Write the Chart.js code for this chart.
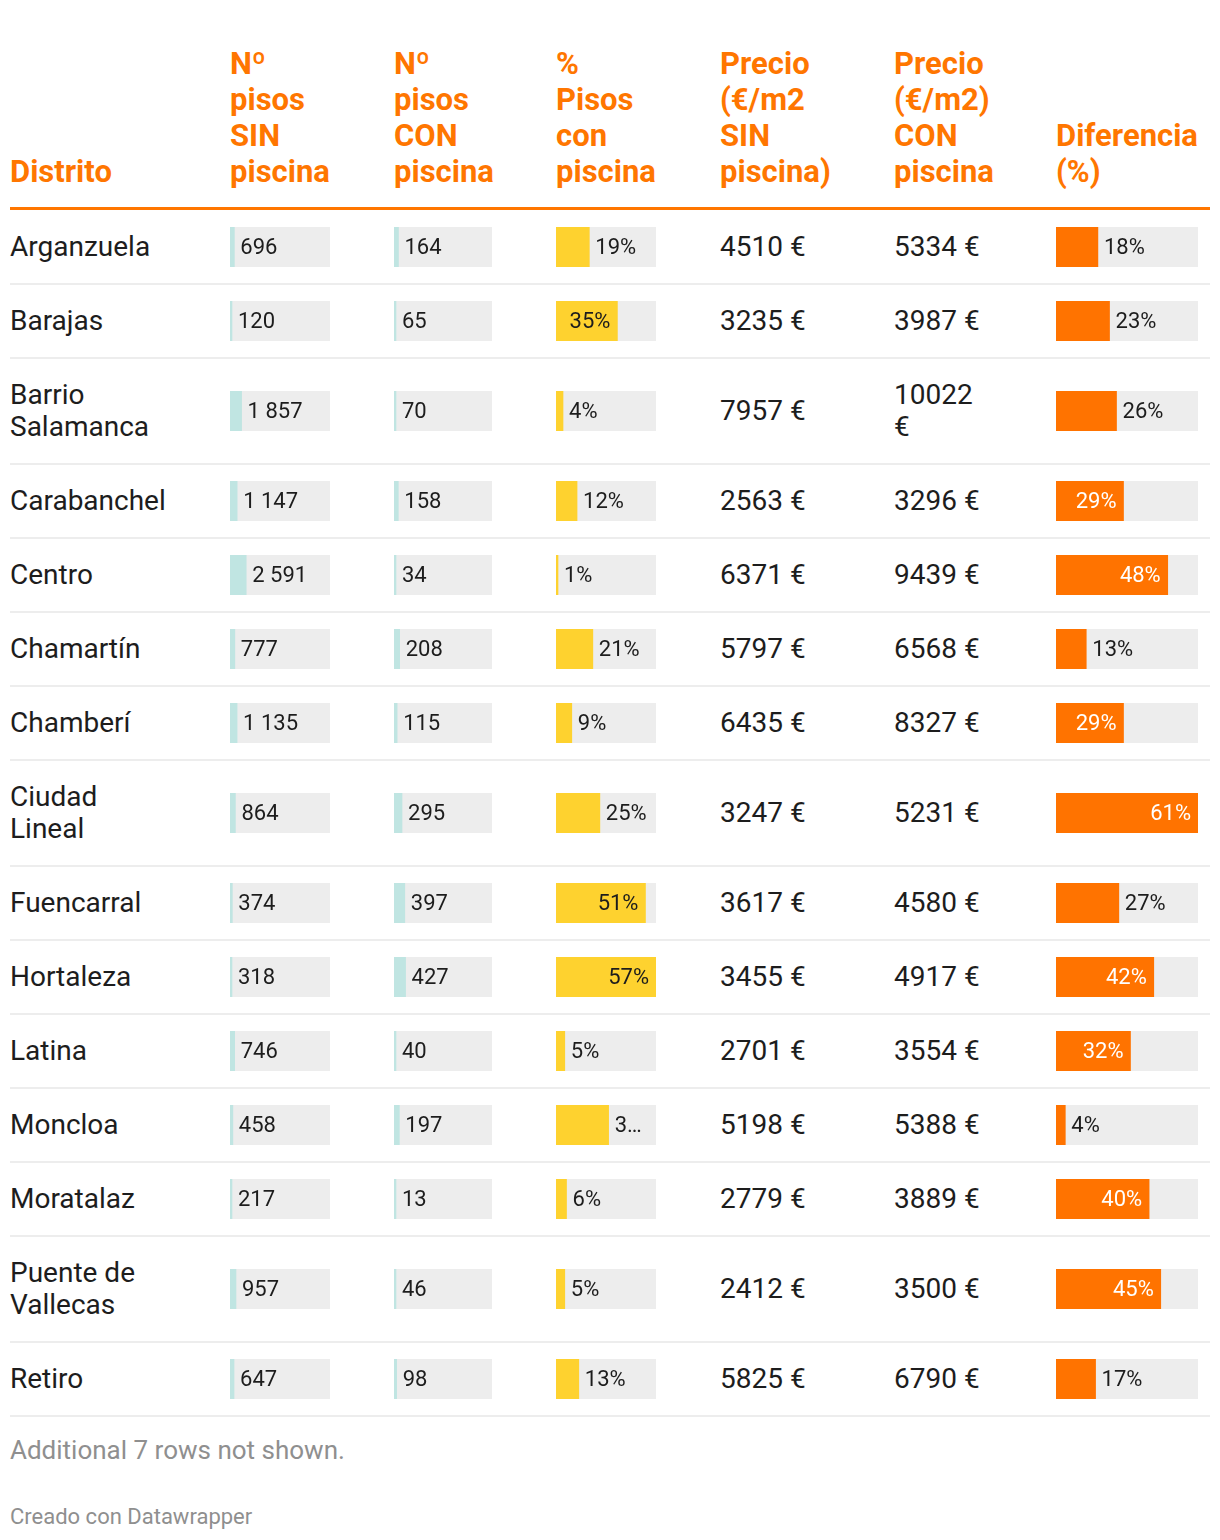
<!DOCTYPE html>
<html>
<head>
<meta charset="utf-8">
<script src="https://cdn.jsdelivr.net/npm/chart.js@4"></script>
<style>
body{margin:0;background:#fff;font-family:Roboto,"Noto Sans",sans-serif;color:#1d1d1d}
#wrap{position:absolute;left:10px;top:46px;width:1200px}
table{border-collapse:collapse;table-layout:fixed;width:1200px}
th{color:#ff7600;font-weight:700;font-size:31px;line-height:36px;text-align:left;vertical-align:bottom;padding:0 0 17px 0;border-bottom:3px solid #ff7600}
td{padding:20px 0;font-size:28px;line-height:32px;vertical-align:middle;border-bottom:2px solid #ededed}
tbody tr:first-child td{padding-top:21px}
tbody tr:first-child td.bar{padding-top:1px}
td.bar{padding:0}
canvas{display:block}
.name{max-width:150px}
.price{max-width:95px}
.note{margin-top:17px;font-size:26px;line-height:32px;color:#8f8f8f}
.credit{margin-top:37px;font-size:22px;line-height:28px;color:#8f8f8f}
</style>
</head>
<body>
<div id="wrap">
<table>
<colgroup><col style="width:220px"><col style="width:164px"><col style="width:162px"><col style="width:164px"><col style="width:174px"><col style="width:162px"><col style="width:154px"></colgroup>
<thead><tr id="head"></tr></thead>
<tbody id="body"></tbody>
</table>
<div class="note">Additional 7 rows not shown.</div>
<div class="credit">Creado con Datawrapper</div>
</div>
<script>
const headers = [
  ['Distrito'],
  ['Nº','pisos','SIN','piscina'],
  ['Nº','pisos','CON','piscina'],
  ['%','Pisos','con','piscina'],
  ['Precio','(€/m2','SIN','piscina)'],
  ['Precio','(€/m2)','CON','piscina'],
  ['Diferencia','(%)']
];
const districts = ['Arganzuela','Barajas','Barrio Salamanca','Carabanchel','Centro','Chamartín','Chamberí','Ciudad Lineal','Fuencarral','Hortaleza','Latina','Moncloa','Moratalaz','Puente de Vallecas','Retiro'];
const pisosSin  = [696,120,1857,1147,2591,777,1135,864,374,318,746,458,217,957,647];
const pisosCon  = [164,65,70,158,34,208,115,295,397,427,40,197,13,46,98];
const pctCon    = [19,35,4,12,1,21,9,25,51,57,5,30,6,5,13];
const precioSin = [4510,3235,7957,2563,6371,5797,6435,3247,3617,3455,2701,5198,2779,2412,5825];
const precioCon = [5334,3987,10022,3296,9439,6568,8327,5231,4580,4917,3554,5388,3889,3500,6790];
const diferencia= [18,23,26,29,48,13,29,61,27,42,32,4,40,45,17];

const fmtCount = n => String(n).replace(/\B(?=(\d{3})+(?!\d))/g,' ');
const fmtPct = n => n + '%';

// column settings for bar cells
const barCols = {
  sin:  {w:100, max:16000, color:'#c0e5e2', fmt:fmtCount, insideFrom:1e9, insideColor:'#1d1d1d'},
  con:  {w:98,  max:3600,  color:'#c0e5e2', fmt:fmtCount, insideFrom:1e9, insideColor:'#1d1d1d'},
  pct:  {w:100, max:57,    color:'#fed22f', fmt:fmtPct,   insideFrom:33, insideColor:'#1d1d1d'},
  diff: {w:142, max:61,    color:'#ff7300', fmt:fmtPct,   insideFrom:28, insideColor:'#ffffff'}
};

const labelPlugin = {
  id:'cellLabel',
  afterDatasetsDraw(chart){
    const o = barCols[chart.canvas.dataset.col];
    const bar = chart.getDatasetMeta(0).data[0];
    const area = chart.chartArea;
    const ctx = chart.ctx;
    const v = chart.data.datasets[0].data[0];
    let txt = o.fmt(v);
    ctx.save();
    ctx.font = '22px Roboto, "Noto Sans", sans-serif';
    ctx.textBaseline = 'middle';
    if (v >= o.insideFrom) {
      ctx.fillStyle = o.insideColor;
      ctx.textAlign = 'right';
      ctx.fillText(txt, bar.x - 7, bar.y + 1);
    } else {
      ctx.fillStyle = '#1d1d1d';
      ctx.textAlign = 'left';
      const tx = bar.x + 6;
      const avail = area.right - tx - 6;
      if (ctx.measureText(txt).width > avail) {
        while (txt.length > 1 && ctx.measureText(txt + '…').width > avail) txt = txt.slice(0,-1);
        txt += '…';
      }
      ctx.fillText(txt, tx, bar.y + 1);
    }
    ctx.restore();
  }
};

function barCell(tr, value, key){
  const c = barCols[key];
  const td = document.createElement('td'); td.className = 'bar';
  const cv = document.createElement('canvas'); cv.width = c.w; cv.height = 40; cv.dataset.col = key;
  td.appendChild(cv); tr.appendChild(td);
  new Chart(cv, {
    type:'bar',
    data:{ labels:[''], datasets:[
      { data:[value], backgroundColor:c.color, barPercentage:1, categoryPercentage:1, grouped:false, minBarLength:2, order:0 },
      { data:[c.max], backgroundColor:'#ededed', barPercentage:1, categoryPercentage:1, grouped:false, order:1 }
    ]},
    options:{ indexAxis:'y', responsive:false, animation:false, events:[], layout:{padding:0},
      plugins:{ legend:{display:false}, tooltip:{enabled:false} },
      scales:{ x:{display:false, min:0, max:c.max}, y:{display:false} } },
    plugins:[labelPlugin]
  });
}
function textCell(tr, text, cls){
  const td = document.createElement('td');
  const d = document.createElement('div'); d.className = cls; d.textContent = text;
  td.appendChild(d); tr.appendChild(td);
}

const head = document.getElementById('head');
headers.forEach(lines => { const th = document.createElement('th'); th.innerHTML = lines.join('<br>'); head.appendChild(th); });

const body = document.getElementById('body');
districts.forEach((d,i) => {
  const tr = document.createElement('tr'); body.appendChild(tr);
  textCell(tr, d, 'name');
  barCell(tr, pisosSin[i], 'sin');
  barCell(tr, pisosCon[i], 'con');
  barCell(tr, pctCon[i], 'pct');
  textCell(tr, precioSin[i] + ' €', 'price');
  textCell(tr, precioCon[i] + ' €', 'price');
  barCell(tr, diferencia[i], 'diff');
});
</script>
</body>
</html>
